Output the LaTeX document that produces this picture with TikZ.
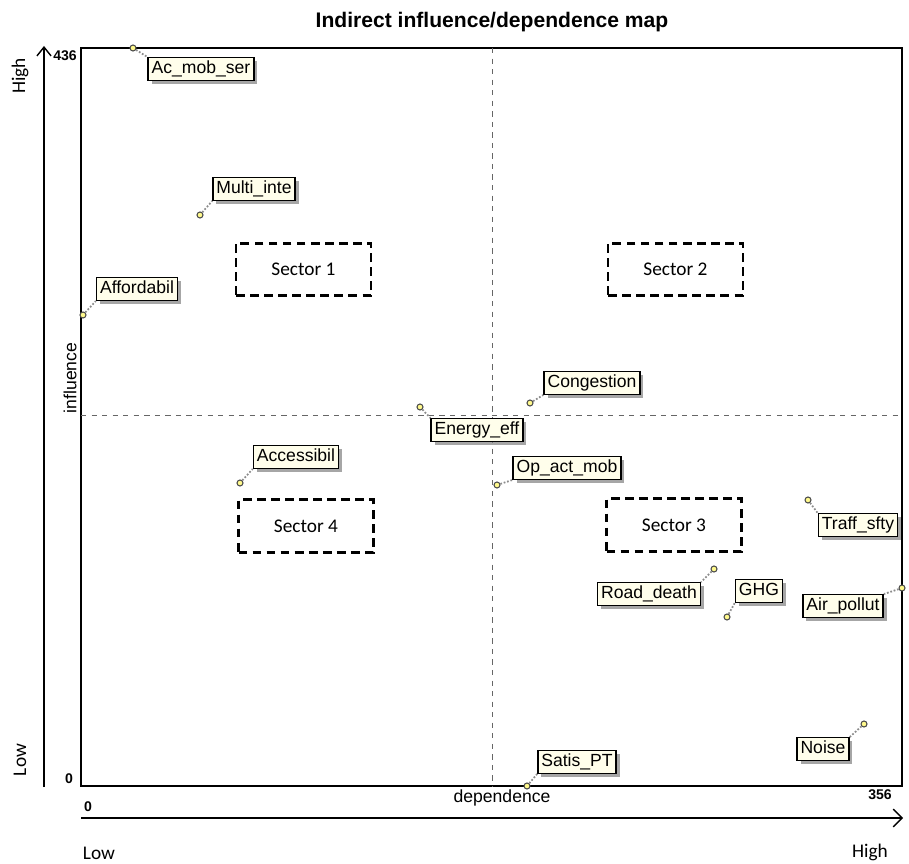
\documentclass[tikz,border=0pt]{standalone}
\usepackage{fontspec}
\setmainfont{Liberation Sans}
\newfontfamily\calfont{Carlito}
\usetikzlibrary{shadows,arrows.meta}
\begin{document}
\begin{tikzpicture}[x=0.02cm,y=-0.02cm,
  lbl/.style={draw=black,line width=0.8pt,fill=yellow!8,inner xsep=2pt,inner ysep=1.5pt,
    font=\fontsize{10}{11}\selectfont,text height=7.5pt,text depth=2.3pt,
    drop shadow={shadow xshift=2pt,shadow yshift=-2pt,fill=black!50,opacity=0.7}},
  pt/.style={circle,draw=black!70,fill=yellow!45,line width=0.6pt,minimum size=0.12cm,inner sep=0pt},
  leader/.style={draw=black!45,densely dotted,line width=1pt},
  sector/.style={draw=black,line width=1.6pt,dash pattern=on 5pt off 3pt,minimum width=2.7cm,minimum height=1.05cm,font=\calfont\fontsize{11}{12}\selectfont},
  ticklab/.style={font=\bfseries\fontsize{8}{9}\selectfont},
  axlab/.style={font=\calfont\fontsize{11}{12}\selectfont}]
\useasboundingbox (0,0) rectangle (909,864);
% title
\node[font=\bfseries\fontsize{12}{14}\selectfont] (title) at (492,22) {Indirect influence/dependence map};
% frame
\draw[line width=0.8pt] (81,48) rectangle (902,786);
\draw[black!60,dashed,line width=0.5pt] (492,48) -- (492,786);
\draw[black!60,dashed,line width=0.5pt] (81,415) -- (902,415);
% axes
\draw[line width=0.8pt,-{Straight Barb[length=5pt,width=8pt]}] (44,787) -- (44,46);
\draw[line width=0.8pt,-{Straight Barb[length=5pt,width=10pt]}] (81,818) -- (903,818);
\node[ticklab] (y436) at (65,56) {436};
\node[ticklab] (y0) at (69,779) {0};
\node[ticklab] (x0) at (88,807) {0};
\node[ticklab] (x356) at (880,795) {356};
\node[axlab,rotate=90] (yhigh) at (20,76) {High};
\node[axlab,rotate=90] (ylow) at (20,760) {Low};
\node[axlab] (xlow) at (99,853) {Low};
\node[axlab] (xhigh) at (870,852) {High};
\node[font=\fontsize{10}{11}\selectfont,rotate=90] (infl) at (70,378) {influence};
\node[font=\fontsize{10}{11}\selectfont] (dep) at (502,798) {dependence};
% sectors
\node[sector] (s1) at (303.5,269.5) {Sector 1};
\node[sector] (s2) at (675.5,269.5) {Sector 2};
\node[sector] (s4) at (306,526) {Sector 4};
\node[sector] (s3) at (674,525) {Sector 3};
% points and labels
\node[pt] (p1) at (133,48) {};
\node[lbl] (l1) at (201,69) {Ac\_mob\_ser};
\draw[leader] (p1) -- (l1.north west);
\node[pt] (p2) at (200,215) {};
\node[lbl] (l2) at (254,189) {Multi\_inte};
\draw[leader] (p2) -- (l2.south west);
\node[pt] (p3) at (83,315) {};
\node[lbl] (l3) at (137,289) {Affordabil};
\draw[leader] (p3) -- (l3.south west);
\node[pt] (p4) at (530,403) {};
\node[lbl] (l4) at (592,383) {Congestion};
\draw[leader] (p4) -- (l4.south west);
\node[pt] (p5) at (420,407) {};
\node[lbl] (l5) at (477,430) {Energy\_eff};
\draw[leader] (p5) -- (l5.north west);
\node[pt] (p6) at (497,485) {};
\node[lbl] (l6) at (567,468) {Op\_act\_mob};
\draw[leader] (p6) -- (l6.south west);
\node[pt] (p7) at (240,483) {};
\node[lbl] (l7) at (296,457) {Accessibil};
\draw[leader] (p7) -- (l7.south west);
\node[pt] (p8) at (808,500) {};
\node[lbl] (l8) at (858,525) {Traff\_sfty};
\draw[leader] (p8) -- (l8.north west);
\node[pt] (p9) at (714,569) {};
\node[lbl] (l9) at (649,594) {Road\_death};
\draw[leader] (p9) -- (l9.north east);
\node[pt] (p10) at (727,617) {};
\node[lbl] (l10) at (759,591) {GHG};
\draw[leader] (p10) -- (l10.south west);
\node[pt] (p11) at (902,588) {};
\node[lbl] (l11) at (843,606) {Air\_pollut};
\draw[leader] (p11) -- (l11.north east);
\node[pt] (p12) at (864,724) {};
\node[lbl] (l12) at (823,749) {Noise};
\draw[leader] (p12) -- (l12.north east);
\node[pt] (p13) at (527,786) {};
\node[lbl] (l13) at (577,762) {Satis\_PT};
\draw[leader] (p13) -- (l13.south west);
\end{tikzpicture}
\end{document}
